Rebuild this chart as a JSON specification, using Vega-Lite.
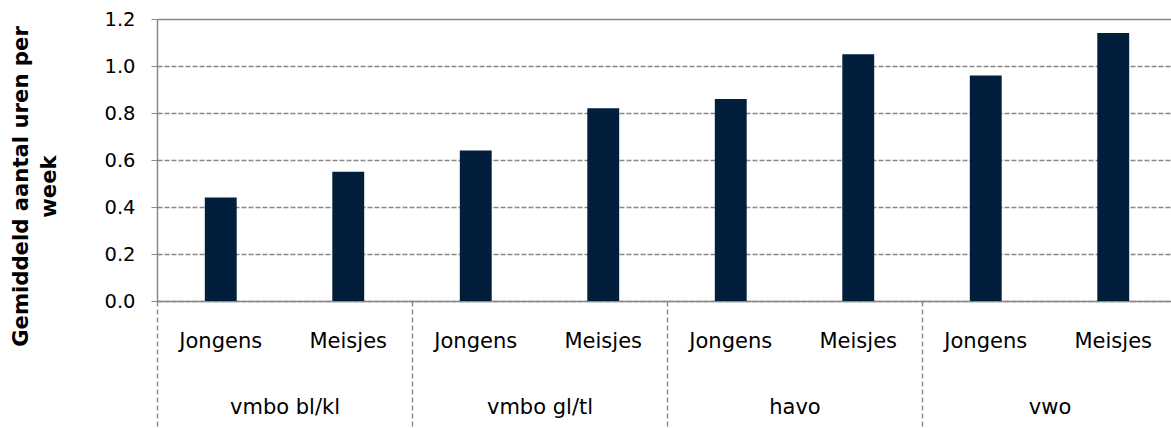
{
  "$schema": "https://vega.github.io/schema/vega-lite/v6.json",
  "width": 1014,
  "height": 282,
  "autosize": {"type": "none"},
  "padding": {"left": 157, "top": 19, "right": 0, "bottom": 127},
  "background": "white",
  "config": {"view": {"stroke": null}, "font": "DejaVu Sans"},
  "data": {
    "values": [
      {"groep": "vmbo bl/kl", "geslacht": "Jongens", "key": "vmbo bl/kl|Jongens", "uren": 0.44},
      {"groep": "vmbo bl/kl", "geslacht": "Meisjes", "key": "vmbo bl/kl|Meisjes", "uren": 0.55},
      {"groep": "vmbo gl/tl", "geslacht": "Jongens", "key": "vmbo gl/tl|Jongens", "uren": 0.64},
      {"groep": "vmbo gl/tl", "geslacht": "Meisjes", "key": "vmbo gl/tl|Meisjes", "uren": 0.82},
      {"groep": "havo", "geslacht": "Jongens", "key": "havo|Jongens", "uren": 0.86},
      {"groep": "havo", "geslacht": "Meisjes", "key": "havo|Meisjes", "uren": 1.05},
      {"groep": "vwo", "geslacht": "Jongens", "key": "vwo|Jongens", "uren": 0.96},
      {"groep": "vwo", "geslacht": "Meisjes", "key": "vwo|Meisjes", "uren": 1.14}
    ]
  },
  "layer": [
    {
      "mark": {"type": "bar", "color": "#011e3c"},
      "encoding": {
        "x": {
          "field": "key",
          "type": "nominal",
          "sort": null,
          "scale": {"range": [0, 1020], "paddingInner": 0.75, "paddingOuter": 0.375},
          "axis": {
            "orient": "bottom",
            "title": null,
            "labelExpr": "split(datum.label, '|')[1]",
            "labelAngle": 0,
            "ticks": false,
            "tickSize": 0,
            "labelPadding": 46,
            "labelBaseline": "alphabetic",
            "labelFontSize": 21,
            "labelColor": "#000000",
            "domainColor": "#888888",
            "domainWidth": 1.5,
            "grid": false
          }
        },
        "y": {
          "field": "uren",
          "type": "quantitative",
          "scale": {"domain": [0, 1.2], "nice": false},
          "axis": {
            "values": [0, 0.2, 0.4, 0.6, 0.8, 1.0, 1.2],
            "format": ".1f",
            "grid": true,
            "gridColor": "#888888",
            "gridWidth": 1.3,
            "gridDash": {"condition": {"test": "datum.value > 1.19", "value": []}, "value": [5, 2]},
            "domainColor": "#888888",
            "domainWidth": 1.5,
            "tickColor": "#888888",
            "tickSize": 6,
            "labelPadding": 16,
            "labelFontSize": 19.5,
            "labelColor": "#000000",
            "title": ["Gemiddeld aantal uren per", "week"],
            "titleFontWeight": "bold",
            "titleFontSize": 21.2,
            "titleColor": "#000000",
            "titleAngle": 270,
            "titleAlign": "center",
            "titleBaseline": "alphabetic",
            "titleLineHeight": 28,
            "titleX": -130,
            "titleY": 167
          }
        }
      }
    },
    {
      "mark": {"type": "bar", "opacity": 0},
      "encoding": {
        "x": {
          "field": "groep",
          "type": "nominal",
          "sort": null,
          "scale": {"range": [0, 1020], "paddingInner": 0, "paddingOuter": 0},
          "axis": {
            "orient": "bottom",
            "title": null,
            "labelAngle": 0,
            "domain": false,
            "grid": false,
            "ticks": true,
            "tickBand": "extent",
            "tickSize": 135,
            "tickColor": "#888888",
            "tickWidth": 1.4,
            "tickDash": [5, 3],
            "labelPadding": -23,
            "labelBaseline": "alphabetic",
            "labelFontSize": 21,
            "labelColor": "#000000"
          }
        },
        "y": {"field": "uren", "type": "quantitative"}
      }
    }
  ],
  "resolve": {"scale": {"x": "independent"}, "axis": {"x": "independent"}}
}
